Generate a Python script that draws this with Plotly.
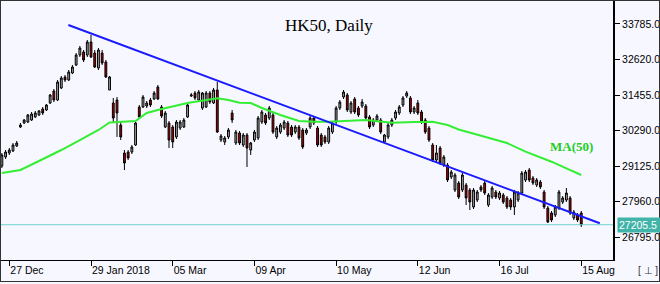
import plotly.graph_objects as go

# ---------------- data ----------------
opens = [29130, 29425, 29556, 29622, 29786, 30408, 30539, 30572, 30638, 30736,
         30801, 30998, 30965, 31195, 31588, 31293, 31686, 32047, 31948, 32178,
         32440, 32768, 32866, 32768, 33194, 32833, 32342, 32833, 32538, 31621,
         31195, 31293, 30474, 29556, 29589, 29589, 29818, 31064, 31064, 31096,
         31293, 31326, 31719, 31064, 30408, 30539, 30408, 30081, 30375, 30408,
         30736, 31424, 31522, 31293, 31031, 31064, 31522, 31195, 31621, 29982,
         29917, 30081, 30867, 29884, 30212, 29818, 30146, 29654, 29982, 30048,
         30572, 30801, 30703, 30801, 30081, 30244, 30375, 30539, 30408, 30244,
         30408, 30310, 30212, 30408, 30703, 30375, 30146, 30081, 29917, 30244,
         30572, 31031, 31391, 31457, 30900, 31326, 31031, 31096, 31096, 30736,
         30474, 30638, 30638, 29917, 30081, 30474, 30703, 30867, 31129, 31424,
         31359, 30900, 31195, 30900, 30638, 30375, 29818, 29327, 29720, 29163,
         29163, 28770, 28344, 28573, 28344, 28508, 28344, 27787, 28016, 28442,
         28573, 27852, 28114, 28278, 28082, 28180, 28082, 28016, 27787, 28016,
         28245, 28671, 28999, 28737, 28508, 28606, 28278, 27754, 27590, 27524,
         27754, 27950, 28016, 28082, 27426, 27524, 27590]
highs = [29556, 29654, 29720, 29884, 29949, 30539, 30670, 30834, 30900, 30933,
         30965, 31064, 31162, 31490, 31653, 31948, 32079, 32112, 32276, 32440,
         32833, 33063, 32931, 33259, 33423, 32931, 32997, 32931, 32604, 32079,
         31359, 31391, 30572, 29654, 29654, 29818, 30572, 31129, 31457, 31260,
         31359, 31588, 31785, 31129, 30933, 30605, 30474, 30638, 30638, 30703,
         31195, 31522, 31588, 31621, 31555, 31588, 31588, 31686, 31883, 30179,
         30113, 30375, 30965, 30310, 30277, 30212, 30212, 29917, 30310, 30769,
         30965, 30867, 31096, 30867, 30441, 30539, 30638, 30605, 30474, 30474,
         30474, 30375, 30375, 30801, 30769, 30441, 30212, 30146, 30441, 30605,
         31096, 31293, 31621, 31522, 31260, 31391, 31096, 31326, 31162, 30801,
         30703, 30834, 30703, 30179, 30539, 30703, 30965, 31129, 31424, 31588,
         31424, 31096, 31293, 30965, 30703, 30441, 29884, 29818, 29786, 29491,
         29228, 28999, 28901, 28638, 28901, 28573, 28409, 28409, 28344, 28508,
         28638, 28245, 28475, 28344, 28311, 28245, 28147, 28082, 28344, 28311,
         28966, 28999, 29065, 28803, 28737, 28671, 28344, 27819, 27656, 27852,
         28344, 28147, 28409, 28147, 27688, 27590, 27656]
lows = [29065, 29360, 29491, 29589, 29753, 30375, 30507, 30539, 30605, 30703,
        30769, 30801, 30933, 31162, 31227, 31260, 31653, 31883, 31916, 32145,
        32407, 32702, 32538, 32702, 32669, 32342, 32276, 32440, 32014, 31621,
        30572, 30081, 29982, 28999, 29327, 29523, 29786, 30670, 31031, 31031,
        31064, 31293, 31293, 30703, 30375, 29720, 29720, 30015, 30310, 30375,
        30703, 31391, 31293, 31260, 30965, 31031, 31162, 31162, 30212, 29917,
        29818, 30015, 30539, 29818, 29818, 29753, 29097, 29491, 29917, 29982,
        30507, 30474, 30638, 30179, 30015, 30179, 30310, 30081, 30081, 30179,
        29982, 29687, 30146, 30343, 30474, 29753, 29753, 29851, 29851, 30179,
        30507, 30965, 31326, 30900, 30834, 30834, 30736, 31031, 30638, 30343,
        30408, 30572, 30179, 29884, 30015, 30408, 30638, 30801, 31064, 31359,
        30834, 30834, 30801, 30507, 30179, 29917, 29261, 29261, 29163, 29097,
        28606, 28704, 28278, 28049, 28278, 27852, 27688, 27721, 27950, 28278,
        28180, 27787, 28049, 28049, 28016, 27885, 27721, 27688, 27524, 27950,
        28180, 28606, 28606, 28508, 28442, 28377, 27721, 27262, 27295, 27459,
        27688, 27885, 27950, 27524, 27361, 27295, 27131]
closes = [29491, 29589, 29654, 29818, 29884, 30474, 30638, 30801, 30834, 30867,
          30933, 30867, 31129, 31457, 31293, 31883, 32014, 31948, 32211, 32374,
          32768, 32997, 32604, 33194, 32702, 32374, 32931, 32505, 32047, 32047,
          30703, 30867, 30081, 29228, 29392, 29753, 30539, 30736, 31391, 31195,
          31129, 31522, 31326, 30769, 30867, 29982, 29917, 30572, 30572, 30638,
          31129, 31457, 31359, 31555, 31522, 31522, 31227, 31621, 30244, 30113,
          30048, 30310, 30638, 30244, 29884, 30146, 29720, 29884, 30244, 30703,
          30900, 30539, 31031, 30244, 30375, 30474, 30572, 30146, 30146, 30408,
          30048, 29753, 30310, 30703, 30539, 29818, 29818, 29917, 30375, 30539,
          31031, 31227, 31555, 30965, 31195, 30900, 30801, 31227, 30703, 30408,
          30638, 30769, 30244, 30146, 30474, 30638, 30900, 31064, 31359, 31522,
          30900, 31031, 30867, 30572, 30244, 29982, 29327, 29556, 29228, 29425,
          28671, 28934, 28835, 28114, 28835, 28082, 27950, 28344, 28278, 28344,
          28245, 28180, 28409, 28114, 28245, 27950, 27787, 27787, 28278, 28245,
          28901, 28934, 28671, 28573, 28671, 28442, 27787, 27295, 27361, 27787,
          28278, 28082, 28245, 27590, 27623, 27361, 27205.5]
bars = list(range(len(closes)))

ma_bars = [0, 5, 10, 16, 21, 26, 29, 36, 39, 43, 50, 55, 58, 61, 64, 67, 70, 75,
           80, 84, 88, 98, 105, 111, 116, 120, 123, 130, 136, 141, 148, 152, 156]
ma_vals = [28901, 28999, 29294, 29654, 29982, 30310, 30556, 30605, 30867, 30998,
           31195, 31293, 31349, 31293, 31205, 31195, 31031, 30801, 30605, 30582,
           30582, 30638, 30549, 30572, 30582, 30474, 30326, 30090, 29884, 29599,
           29271, 29055, 28835]

trend_bars = [17.9, 161.0]
trend_vals = [33751, 27253]

last_price = 27205.5
y_ticks = [26795, 27960, 29125, 30290, 31455, 32620, 33785]
x_tick_bars = [2, 24, 46, 68, 90, 112, 134, 156]
x_tick_text = ["27 Dec", "29 Jan 2018", "05 Mar", "09 Apr", "10 May", "12 Jun",
               "16 Jul", "15 Aug"]
title_text = "HK50, Daily"
ma_label = "MA(50)"

# ---------------- figure ----------------
W, H = 660, 284
ML, MR, MT, MB = 1, 47, 1, 24
PW, PH = W - ML - MR, H - MT - MB


def px(xp):
    return (xp - ML) / PW


def py(yp):
    return (H - MB - yp) / PH


fig = go.Figure()

fig.add_trace(go.Scatter(
    x=[-5, 170], y=[last_price, last_price], mode="lines",
    line=dict(color="#6FCFCF", width=1), hoverinfo="skip", showlegend=False))

fig.add_trace(go.Scatter(
    x=ma_bars, y=ma_vals, mode="lines",
    line=dict(color="#33EE33", width=2), hoverinfo="skip", showlegend=False))

fig.add_trace(go.Candlestick(
    x=bars, open=opens, high=highs, low=lows, close=closes,
    increasing=dict(line=dict(color="#000000", width=1), fillcolor="#A8A8A8"),
    decreasing=dict(line=dict(color="#000000", width=1), fillcolor="#B00000"),
    whiskerwidth=0, showlegend=False))

fig.add_trace(go.Scatter(
    x=trend_bars, y=trend_vals, mode="lines",
    line=dict(color="#1A1AFF", width=2), hoverinfo="skip", showlegend=False))

bg = "#F7F8FF"
fig.update_layout(
    width=W, height=H,
    margin=dict(l=ML, r=MR, t=MT, b=MB, pad=0),
    paper_bgcolor=bg, plot_bgcolor=bg,
    showlegend=False,
    font=dict(family="Liberation Sans, Arial, sans-serif", size=10.5, color="#000000"),
    xaxis=dict(
        range=[-0.234, 164.55], rangeslider=dict(visible=False),
        showgrid=False, zeroline=False,
        showline=True, linecolor="#000000", linewidth=1,
        tickmode="array", tickvals=x_tick_bars, ticktext=x_tick_text,
        ticks="outside", ticklen=5, tickcolor="#000000", tickwidth=1,
        ticklabelposition="outside right",
        tickfont=dict(size=10.5, color="#000000"),
    ),
    yaxis=dict(
        range=[26050, 34537], side="right",
        showgrid=False, zeroline=False,
        showline=True, linecolor="#000000", linewidth=2,
        tickmode="array", tickvals=y_ticks,
        ticktext=[f"{v:.1f}" for v in y_ticks],
        ticks="outside", ticklen=5, tickcolor="#000000", tickwidth=1,
        tickfont=dict(size=10.5, color="#000000"),
        ticklabelstandoff=0,
    ),
)

fig.add_annotation(
    xref="paper", yref="paper", x=px(329), y=py(25),
    text=title_text, showarrow=False, xanchor="center", yanchor="middle",
    font=dict(family="Liberation Serif, Times New Roman, serif", size=17, color="#000000"))

fig.add_annotation(
    xref="paper", yref="paper", x=px(571), y=py(146.5),
    text=f"<b>{ma_label}</b>", showarrow=False, xanchor="center", yanchor="middle",
    font=dict(family="Liberation Serif, Times New Roman, serif", size=13, color="#22CC22"))

fig.add_annotation(
    xref="paper", yref="y", x=px(617), y=last_price,
    text=f"{last_price:.1f}", showarrow=False, xanchor="left", yanchor="middle",
    bgcolor="#40B4A8", borderpad=1, width=40, align="left",
    font=dict(size=10.5, color="#FFFFFF"))

fig.add_annotation(
    xref="paper", yref="paper", x=px(648), y=py(270),
    text="[ ⊥ ]", showarrow=False, xanchor="center", yanchor="middle",
    font=dict(size=10, color="#333333"))

# outer frame
frame = dict(color="#333333", width=1)
fig.add_shape(type="line", xref="paper", yref="paper", x0=px(0), x1=px(660),
              y0=py(0.5), y1=py(0.5), line=frame)
fig.add_shape(type="line", xref="paper", yref="paper", x0=px(0.5), x1=px(0.5),
              y0=py(0), y1=py(282), line=frame)
fig.add_shape(type="line", xref="paper", yref="paper", x0=px(0), x1=px(660),
              y0=py(281.5), y1=py(281.5), line=frame)
fig.add_shape(type="line", xref="paper", yref="paper", x0=px(659.5), x1=px(659.5),
              y0=py(0), y1=py(282), line=frame)

fig.write_html("out.html")
